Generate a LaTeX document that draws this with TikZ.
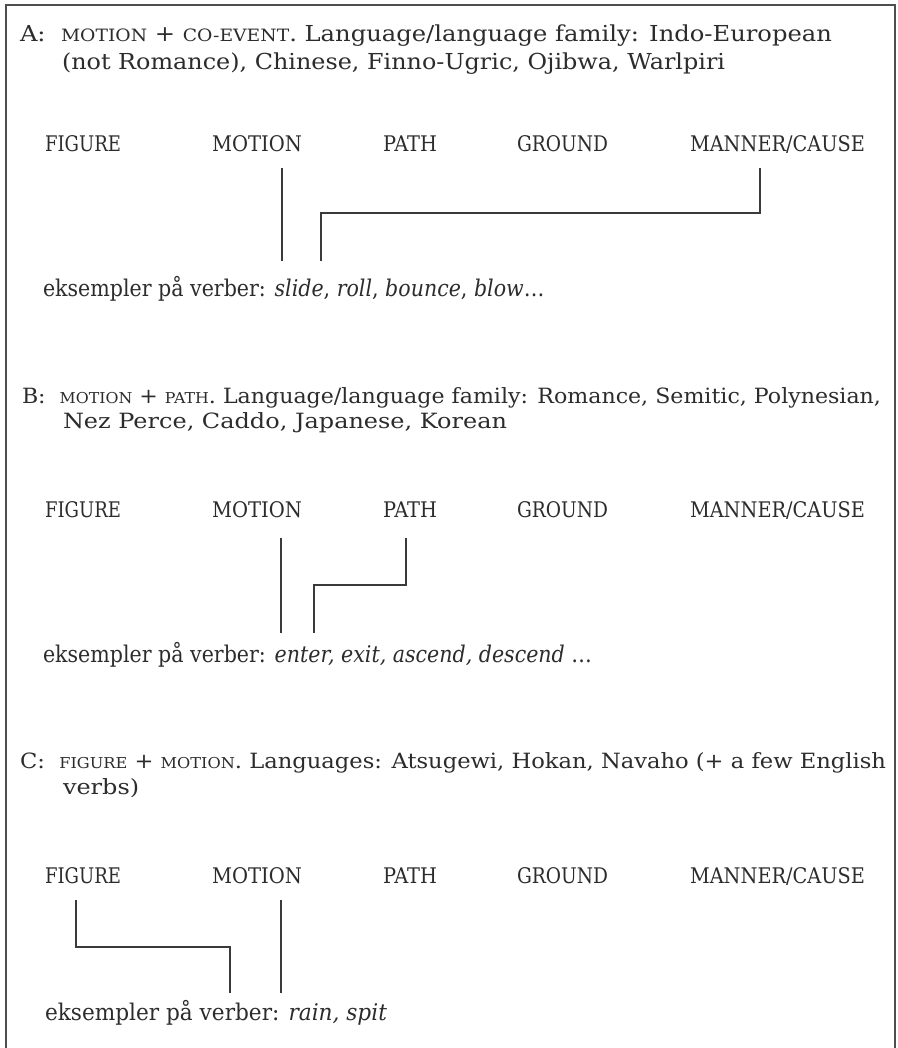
\documentclass[tikz,border=0pt]{standalone}
\usepackage{fontspec}
\usepackage{graphicx}
\setmainfont{DejaVu Serif}
\definecolor{ink}{HTML}{2C2C2C}
\definecolor{rule}{HTML}{3A3A3A}
\newcommand\ttlfont{\fontsize{22}{26}\selectfont}
\newcommand\ttlBfont{\fontsize{21}{26}\selectfont}
\newcommand\exfont{\fontsize{23}{26}\selectfont}
\newcommand\lblfont{\fontsize{21.5}{26}\selectfont}
\newcommand\scA[1]{{\fontsize{17}{20}\selectfont #1}}
\newcommand\scB[1]{{\fontsize{15}{18}\selectfont #1}}
\newlength\tmplen
\newcommand\fitw[2]{\resizebox{#1pt}{\height}{#2}}
\begin{document}
\settowidth\tmplen{\ttlBfont Nez Perce, Caddo, Japanese, Korean}
\pgfmathsetmacro\tfac{444/\tmplen}
\settowidth\tmplen{\exfont eksempler på verber: \textit{enter, exit, ascend, descend} \dots}
\pgfmathsetmacro\efac{549/\tmplen}
\begin{tikzpicture}[x=1pt,y=-1pt,
  txt/.style={anchor=base west, inner sep=0pt, outer sep=0pt, text=ink, font=\ttlfont},
  txtB/.style={anchor=base west, inner sep=0pt, outer sep=0pt, text=ink, font=\ttlBfont},
  extxt/.style={anchor=base west, inner sep=0pt, outer sep=0pt, text=ink, font=\exfont},
  lbl/.style={anchor=base west, inner sep=0pt, outer sep=0pt, text=ink, font=\lblfont},
  conn/.style={draw=rule, line width=2pt},
  frame/.style={draw=rule!90, line width=2pt}]
\useasboundingbox (0,0) rectangle (897,1048);
\fill[white] (0,0) rectangle (897,1048);
% frame (open at the bottom, cut by the page edge)
\coordinate (fbl) at (6,1052);
\coordinate (ftl) at (6,5);
\coordinate (ftr) at (895,5);
\coordinate (fbr) at (895,1052);
\draw[frame] (fbl) -- (ftl) -- (ftr) -- (fbr);

% ---------- A ----------
\node[txt] (tA1) at (20,42) {\fitw{812}{A:\ \ \scA{MOTION} + \scA{CO-EVENT}. Language/language family: Indo-European}};
\node[txt] (tA2) at (62,70) {\fitw{663}{(not Romance), Chinese, Finno-Ugric, Ojibwa, Warlpiri}};
\node[lbl] (fA) at (45,152) {\fitw{76}{FIGURE}};
\node[lbl] (mA) at (212,152) {\fitw{90}{MOTION}};
\node[lbl] (pA) at (383,152) {\fitw{54}{PATH}};
\node[lbl] (gA) at (517,152) {\fitw{91}{GROUND}};
\node[lbl] (cA) at (690,152) {\fitw{175}{MANNER/CAUSE}};
\node[extxt] (eA) at (43,297) {\scalebox{\efac}[1]{eksempler på verber: \textit{slide}, \textit{roll}, \textit{bounce}, \textit{blow}\dots}};
\coordinate (a1s) at (282,168);
\coordinate (a1e) at (282,261);
\coordinate (a2s) at (760,168);
\coordinate (a2b) at (760,213);
\coordinate (a2c) at (321,213);
\coordinate (a2e) at (321,261);
\draw[conn] (a1s) -- (a1e);
\draw[conn] (a2s) -- (a2b) -- (a2c) -- (a2e);

% ---------- B ----------
\node[txtB] (tB1) at (22,403) {\fitw{859}{B:\ \ \scB{MOTION} + \scB{PATH}. Language/language family: Romance, Semitic, Polynesian,}};
\node[txtB] (tB2) at (63,428) {\fitw{444}{Nez Perce, Caddo, Japanese, Korean}};
\node[lbl] (fB) at (45,517) {\fitw{76}{FIGURE}};
\node[lbl] (mB) at (212,517) {\fitw{90}{MOTION}};
\node[lbl] (pB) at (383,517) {\fitw{54}{PATH}};
\node[lbl] (gB) at (517,517) {\fitw{91}{GROUND}};
\node[lbl] (cB) at (690,517) {\fitw{175}{MANNER/CAUSE}};
\node[extxt] (eB) at (43,662) {\fitw{549}{eksempler på verber: \textit{enter, exit, ascend, descend} \dots}};
\coordinate (b1s) at (281,538);
\coordinate (b1e) at (281,633);
\coordinate (b2s) at (406,538);
\coordinate (b2b) at (406,585);
\coordinate (b2c) at (314,585);
\coordinate (b2e) at (314,633);
\draw[conn] (b1s) -- (b1e);
\draw[conn] (b2s) -- (b2b) -- (b2c) -- (b2e);

% ---------- C ----------
\node[txtB] (tC1) at (20,768) {\fitw{866}{C:\ \ \scB{FIGURE} + \scB{MOTION}. Languages: Atsugewi, Hokan, Navaho (+ a few English}};
\node[txtB] (tC2) at (63,794) {\scalebox{\tfac}[1]{verbs)}};
\node[lbl] (fC) at (45,883) {\fitw{76}{FIGURE}};
\node[lbl] (mC) at (212,883) {\fitw{90}{MOTION}};
\node[lbl] (pC) at (383,883) {\fitw{54}{PATH}};
\node[lbl] (gC) at (517,883) {\fitw{91}{GROUND}};
\node[lbl] (cC) at (690,883) {\fitw{175}{MANNER/CAUSE}};
\node[extxt] (eC) at (45,1020) {\fitw{342}{eksempler på verber: \textit{rain, spit}}};
\coordinate (c1s) at (76,900);
\coordinate (c1b) at (76,947);
\coordinate (c1c) at (230,947);
\coordinate (c1e) at (230,993);
\coordinate (c2s) at (281,900);
\coordinate (c2e) at (281,993);
\draw[conn] (c1s) -- (c1b) -- (c1c) -- (c1e);
\draw[conn] (c2s) -- (c2e);
\end{tikzpicture}
\end{document}
